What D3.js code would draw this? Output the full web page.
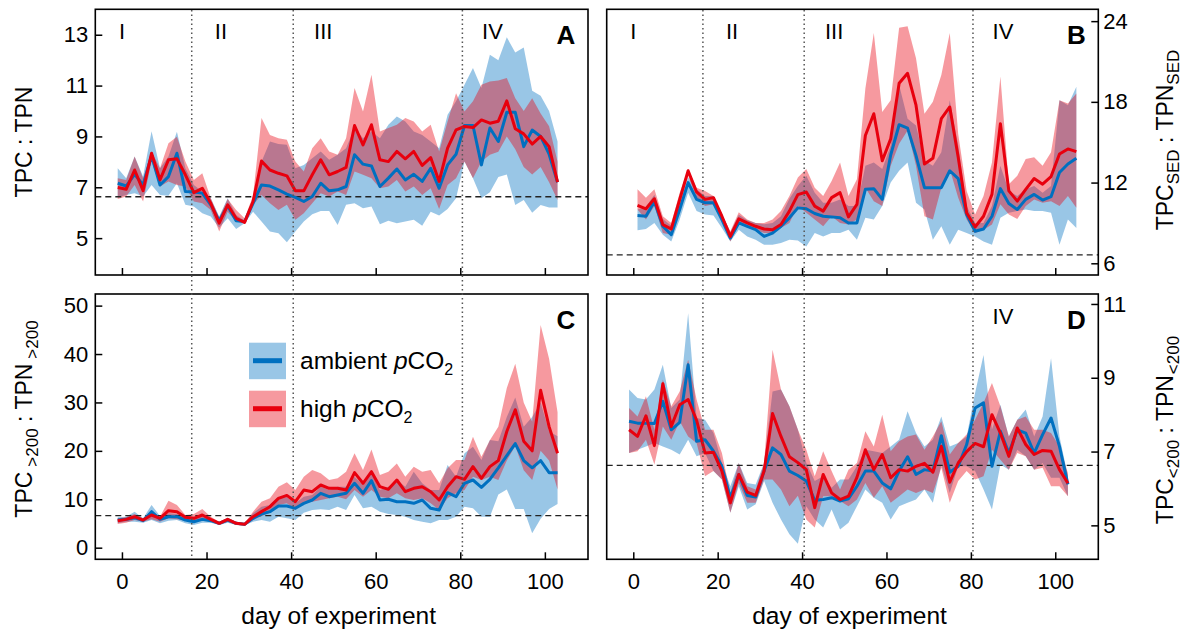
<!doctype html>
<html>
<head>
<meta charset="utf-8">
<script src="https://cdnjs.cloudflare.com/ajax/libs/d3/7.8.5/d3.min.js"></script>
<style>
  body { margin:0; background:#fff; }
  svg { font-family: "Liberation Sans", Arial, Helvetica, sans-serif; }
  .frame { fill:none; stroke:#000; stroke-width:1.6; }
  .axis .domain { display:none; }
  .axis line { stroke:#000; stroke-width:1.5; }
  .axis text { font-size:22px; fill:#000; }
  .redfield { stroke:#222; stroke-width:1.4; stroke-dasharray:6,4; fill:none; }
  .phase { stroke:#555; stroke-width:1.5; stroke-dasharray:1.5,3; }
  .lbl { font-size:23px; fill:#000; }
  .xlbl { font-size:24.5px; fill:#000; }
  .leg { font-size:24.5px; fill:#000; }
  .roman { font-size:22px; fill:#000; text-anchor:middle; }
  .letter { font-size:26px; font-weight:bold; fill:#000; text-anchor:middle; }
</style>
</head>
<body>
<svg id="chart" width="1195" height="633"></svg>
<script>
// sampling days
var daysA = [-1,1,3,5,7,9,11,13,15,17,19,21,23,25,27,29,31,33,35,37,39,41,43,45,47,49,51,53,55,57,59,61,63,65,67,69,71,73,75,77,79,81,83,85,87,89,91,93,95,97,99,101,103];
var daysB = [1,3,5,7,9,11,13,15,17,19,21,23,25,27,29,31,33,35,37,39,41,43,45,47,49,51,53,55,57,59,61,63,65,67,69,71,73,75,77,79,81,83,85,87,89,91,93,95,97,99,101,103,105];

// A: TPC : TPN
var aAmbMean = [7.16,7.05,7.51,7.09,8.25,7.09,7.42,8.34,6.83,6.81,6.77,6.31,5.68,6.27,5.68,5.65,6.37,7.09,7.05,6.90,6.73,6.60,6.44,6.64,7.16,6.86,6.90,7.03,8.28,7.91,7.84,7.03,7.36,7.72,7.29,7.51,7.23,7.75,6.96,7.88,8.30,9.43,9.43,7.88,9.33,8.8,9.95,9.95,8.6,9.25,9.0,8.3,7.2];
var aAmbLo = [6.60,6.70,6.77,6.64,7.09,6.70,6.67,7.16,6.31,6.24,5.98,5.85,5.41,5.78,5.36,5.59,6.04,5.65,5.26,5.19,4.84,5.26,5.65,5.94,6.07,6.07,5.52,6.31,6.37,6.18,6.24,5.55,5.68,5.59,5.65,5.72,5.49,6.04,5.89,6.15,6.57,8.01,7.36,6.57,6.8,7.4,7.5,6.3,6.5,6.0,6.3,6.2,6.2];
var aAmbHi = [7.75,7.36,8.21,7.42,9.2,7.75,8.21,9.18,7.75,7.09,6.83,6.57,5.85,6.57,5.91,5.68,6.57,8.0,8.8,8.7,8.67,7.75,7.88,8.14,8.41,8.08,8.28,8.54,9.33,8.93,9.19,8.93,9.46,9.78,9.59,9.19,9.06,8.80,8.54,9.85,10.38,11.03,11.69,10.90,12.21,12.0,12.9,12.3,12.5,10.8,10.6,10.0,8.8];
var aHighMean = [6.99,6.92,7.68,6.87,8.34,7.29,8.08,8.12,7.49,6.79,6.96,6.37,5.59,6.31,5.78,5.62,6.44,8.03,7.68,7.55,7.45,6.86,6.86,7.49,8.08,7.49,7.62,7.78,9.43,8.67,9.46,8.08,8.01,8.41,8.12,8.41,7.86,8.17,7.23,8.54,9.26,9.39,9.35,9.65,9.52,9.6,10.4,9.3,9.1,8.7,9.0,8.6,7.2];
var aHighLo = [6.54,6.64,7.09,6.44,8.01,7.03,7.23,7.09,7.03,6.44,6.37,6.11,5.26,6.04,5.65,5.59,6.31,6.70,6.37,6.11,6.31,5.72,5.98,6.37,6.77,6.64,6.83,6.70,7.62,7.49,7.36,6.96,7.03,7.29,6.83,7.03,6.70,6.96,6.15,7.09,7.36,8.01,7.36,8.01,8.28,8.4,9.0,8.5,7.8,7.5,7.8,7.2,6.5];
var aHighHi = [7.36,7.29,8.21,7.36,8.41,7.75,8.73,8.99,8.01,7.29,7.55,6.57,5.81,6.54,6.11,5.78,6.67,9.72,9.06,8.93,8.87,8.01,7.62,8.54,8.93,8.41,8.28,8.93,10.9,9.98,11.43,9.19,9.33,9.46,9.72,9.59,9.19,9.46,8.41,9.59,10.70,9.98,10.38,11.03,11.16,11.2,11.3,10.5,10.0,10.5,9.9,9.4,8.0];

// B: sediment trap
var bAmbMean = [9.55,9.5,10.6,8.75,8.12,10.0,12.0,10.75,10.5,10.5,9.25,7.88,9.0,8.75,8.5,8.0,8.25,8.75,9.38,10.12,10.05,9.7,9.5,9.45,9.38,9.0,9.0,11.5,11.55,10.75,14.05,16.3,16.05,14.0,11.62,11.62,11.62,12.88,12.3,9.62,8.38,8.55,9.5,11.55,10.45,10.0,10.75,11.12,10.7,10.95,12.75,13.38,13.8];
var bAmbLo = [8.45,8.55,9.0,8.12,7.62,9.25,11.25,9.88,9.62,9.55,8.62,7.62,8.5,8.0,7.75,7.38,7.38,7.5,7.75,7.7,7.25,8.25,8.0,8.25,8.25,8.5,7.75,9.38,9.25,10.25,12.0,12.88,13.5,10.5,10.0,7.75,8.75,7.38,8.5,8.25,8.0,7.62,7.38,9.38,9.75,9.88,10.0,9.88,9.88,9.75,7.38,9.25,8.62];
var bAmbHi = [10.0,10.2,11.1,9.3,8.8,10.6,12.4,11.5,11.0,11.0,9.7,8.3,9.6,9.2,9.0,8.9,9.0,9.5,10.8,11.75,12.5,11.25,10.5,10.5,10.75,10.25,10.25,13.25,13.5,13.0,14.75,19.25,16.75,16.25,13.62,13.25,14.25,18.12,14.75,10.25,9.0,9.0,10.25,13.25,11.38,11.0,11.5,11.75,11.25,11.75,18.12,17.75,19.12];
var bHighMean = [10.3,10.05,10.8,8.88,8.55,10.75,12.88,11.3,10.75,10.88,9.5,8.0,9.3,9.0,8.75,8.55,8.5,8.88,9.88,11.1,11.3,10.25,9.88,10.88,11.25,9.45,10.38,15.5,17.12,13.62,15.25,19.38,20.12,17.75,13.38,13.8,16.75,17.62,13.88,9.75,8.7,9.5,11.12,16.38,11.38,10.62,11.5,12.3,11.88,12.45,14.12,14.5,14.3];
var bHighLo = [10.0,9.25,10.25,8.25,8.12,10.25,12.5,10.88,10.25,10.38,9.12,7.62,8.88,8.75,8.5,8.25,8.25,8.62,9.0,10.25,9.75,9.25,8.75,9.5,9.0,8.88,9.25,11.62,10.62,10.25,13.25,14.88,15.88,13.25,9.5,9.25,11.62,13.0,10.88,9.25,8.25,8.5,8.88,10.38,9.62,9.3,10.25,10.75,10.5,10.62,10.25,11.0,10.12];
var bHighHi = [11.5,10.88,11.5,9.5,9.0,11.25,13.0,11.62,11.38,11.0,9.62,8.38,9.8,9.25,9.0,9.0,9.25,9.88,11.0,12.38,13.0,11.62,11.0,12.12,13.5,11.0,12.25,19.0,23.12,17.25,18.12,23.5,23.62,21.25,17.12,18.0,20.0,23.12,15.62,11.38,9.62,11.0,13.5,19.88,11.88,12.5,13.75,13.88,13.25,14.25,18.12,17.88,18.62];

// C: >200 um fraction
var cAmbMean = [5.72,5.85,6.2,5.58,7.44,5.85,6.4,6.4,5.72,5.37,5.85,5.58,5.03,5.72,5.03,4.82,6.06,6.96,7.44,8.61,8.61,8.13,9.16,9.85,11.23,10.54,10.88,11.23,13.3,11.23,13.84,9.85,9.99,9.5,9.5,9.16,9.85,8.13,7.78,11.36,10.54,13.3,13.98,12.47,14.12,16.5,19,21.5,18,16.5,18,15.5,15.5];
var cAmbLo = [5.03,5.37,5.37,5.17,5.72,5.03,5.58,5.72,5.03,4.68,5.17,5.17,4.68,5.17,4.68,4.61,5.37,5.72,5.37,6.4,6.06,5.72,7.23,7.78,7.92,7.78,8.47,7.78,10.88,8.13,8.47,7.44,6.96,6.75,6.4,5.72,5.37,5.03,5.72,5.72,6.4,8.47,8.13,6.4,6.4,11,12,8,8,3,6,8,9];
var cAmbHi = [6.27,6.4,7.44,6.06,8.82,6.54,7.09,6.96,6.4,6.4,6.54,6.06,5.37,6.06,5.37,5.03,7.09,8.47,8.82,10.54,10.4,9.16,10.54,10.88,12.6,11.91,12.6,12.6,14.67,12.95,15.7,11.91,12.6,13.98,12.6,15.7,13.3,11.91,11.91,17.08,14.67,19.49,20.87,18.1,22.24,22,27,31,25,27,30,24,23];
var cHighMean = [5.58,5.85,6.4,5.7,6.75,6.06,7.64,7.44,6.27,6.06,6.75,5.85,5.03,5.85,5.03,4.82,6.4,7.44,8.47,10.19,10.8,9.5,11.9,11.57,12.95,12.26,12.26,11.9,15.5,13.3,15.7,12.6,12.05,13.98,11.57,12.26,12.6,11.57,9.85,12.6,14.67,14.12,16.74,14.33,16.74,18,24,28.5,22,20,32.5,25,19.5];
var cHighLo = [4.89,5.17,5.72,5.37,5.85,5.37,6.06,5.85,5.58,5.37,5.85,5.37,4.68,5.37,4.68,4.55,5.72,6.54,7.23,8.82,9.16,7.78,9.16,9.5,9.85,10.19,10.54,10.0,11.9,10.54,11.9,10.54,10.19,11.23,10.19,9.85,10.19,9.16,7.78,10.19,11.23,11.9,14.67,13.98,14.67,14,18,21,16,14,20,18,12];
var cHighHi = [6.06,6.27,6.96,6.06,7.44,6.4,9.71,8.82,6.75,6.96,7.99,6.4,5.37,6.2,5.37,5.03,7.44,9.5,10.19,12.6,13.5,11.91,14.67,16.05,15.36,13.98,14.33,15.7,19.49,16.05,20.3,15.0,15.7,17.4,14.67,16.74,15.7,16.05,13.3,16.4,18.1,18.1,22.9,18.8,22.2,25,33,38,30,26,46,39,28];

// D: <200 um fraction
var dAmbMean = [7.82,7.77,7.77,7.76,8.36,7.59,7.79,9.35,7.28,7.32,7.01,6.6,5.75,6.38,5.81,5.77,6.47,7.1,6.92,6.47,6.35,6.2,5.68,5.7,5.75,5.66,5.72,6.06,6.47,6.47,6.15,5.99,6.47,6.86,6.38,6.51,6.47,7.43,6.44,6.6,7.19,8.18,8.32,6.6,7.55,6.96,7.59,7.5,6.96,7.46,7.91,7.14,6.11];
var dAmbLo = [6.96,7.05,7.14,7.23,7.14,7.05,6.92,7.32,6.87,6.96,6.47,6.24,5.34,6.06,5.43,5.57,6.2,5.61,5.16,4.76,4.5,5.52,5.16,4.94,5.43,4.89,5.07,5.52,5.97,5.75,5.61,5.16,5.52,5.61,5.7,5.97,5.61,6.65,5.88,6.6,6.6,6.47,5.97,5.43,6.65,6.51,7.05,6.87,6.51,6.69,6.29,6.29,5.79];
var dAmbHi = [8.68,8.45,8.41,8.68,9.35,8.18,8.41,10.75,7.91,7.86,7.5,6.69,6.06,6.69,6.15,6.11,6.69,8.63,8.68,8.23,7.6,6.69,6.2,6.33,6.02,6.24,6.24,6.6,7.05,7.01,6.96,7.14,7.32,8.09,7.5,7.14,7.32,7.95,7.14,7.23,7.41,8.59,9.62,7.6,8.27,7.41,7.86,8.14,7.41,7.95,9.53,7.41,6.33];
var dHighMean = [7.59,7.41,7.97,7.16,8.84,7.68,8.27,8.41,7.85,6.96,6.98,6.47,5.61,6.38,5.9,5.81,6.47,8.03,7.41,6.86,6.7,6.51,5.48,6.38,5.88,5.7,5.79,6.3,7.05,6.51,6.92,6.29,6.51,6.47,6.6,6.68,6.44,7.14,6.17,6.69,7.0,7.22,7.13,8.0,7.5,6.87,7.64,7.19,6.92,7.03,7.01,6.51,6.14];
var dHighLo = [6.96,7.01,7.32,6.65,7.68,7.32,7.82,7.41,7.23,6.33,6.47,6.24,5.34,6.15,5.61,5.61,6.24,6.24,5.97,5.52,5.8,5.16,4.94,5.79,5.79,5.66,5.52,5.7,6.15,5.75,6.06,5.61,5.79,5.97,5.88,5.97,5.88,6.56,5.61,6.2,6.47,6.24,6.33,7.05,6.78,6.51,6.96,6.87,6.51,6.56,6.06,6.06,5.79];
var dHighHi = [8.18,7.95,8.5,7.59,8.95,8.23,8.63,9.49,8.41,7.59,7.59,6.96,5.88,6.69,6.06,5.97,6.69,9.76,8.68,8.23,7.6,7.05,6.33,7.01,6.47,5.97,6.51,6.69,7.55,7.14,8.0,7.01,7.28,7.41,7.46,7.05,7.41,7.82,6.92,7.23,7.46,7.86,8.32,8.86,8.23,7.41,7.86,7.95,7.59,7.59,7.5,7.14,6.42];

var xTicks = [0,20,40,60,80,100];
var phaseDays = [16.5, 40.5, 80.5];
var redfield = 6.625;

var colAmb = "#0070c0", colHigh = "#e8000e";

var svg = d3.select("#chart");

var panels = [
  {name:"A", left:95.3, right:588, top:9.3, bottom:275, yDom:[3.55,14.0], yTicks:[5,7,9,11,13], side:"left",
   days:daysA, amb:[aAmbLo,aAmbMean,aAmbHi], high:[aHighLo,aHighMean,aHighHi], xLabels:false,
   roman:[["I",0],["II",23.4],["III",47.6],["IV",87.6]]},
  {name:"B", left:606.7, right:1098.3, top:9.3, bottom:275, yDom:[5.13,24.88], yTicks:[6,12,18,24], side:"right",
   days:daysB, amb:[bAmbLo,bAmbMean,bAmbHi], high:[bHighLo,bHighMean,bHighHi], xLabels:false,
   roman:[["I",0],["II",23.4],["III",47.6],["IV",87.6]]},
  {name:"C", left:95.3, right:588, top:294, bottom:559.3, yDom:[-2.4,52.4], yTicks:[0,10,20,30,40,50], side:"left",
   days:daysA, amb:[cAmbLo,cAmbMean,cAmbHi], high:[cHighLo,cHighMean,cHighHi], xLabels:true,
   roman:[]},
  {name:"D", left:606.7, right:1098.3, top:294, bottom:559.3, yDom:[4.08,11.27], yTicks:[5,7,9,11], side:"right",
   days:daysA, amb:[dAmbLo,dAmbMean,dAmbHi], high:[dHighLo,dHighMean,dHighHi], xLabels:true,
   roman:[["IV",87.6]]}
];

panels.forEach(function(p) {
  var x = d3.scaleLinear().domain([-6.3, 110.2]).range([p.left, p.right]);
  var y = d3.scaleLinear().domain(p.yDom).range([p.bottom, p.top]);
  var g = svg.append("g");

  function band(lo, hi) {
    return d3.area()
      .x(function(d, i) { return x(p.days[i]); })
      .y0(function(d, i) { return y(lo[i]); })
      .y1(function(d, i) { return y(hi[i]); })(p.days);
  }
  function line(v) {
    return d3.line()
      .x(function(d, i) { return x(p.days[i]); })
      .y(function(d, i) { return y(v[i]); })(p.days);
  }

  g.append("path").attr("d", band(p.amb[0], p.amb[2])).attr("fill", colAmb).attr("fill-opacity", 0.4);
  g.append("path").attr("d", band(p.high[0], p.high[2])).attr("fill", colHigh).attr("fill-opacity", 0.4);

  g.append("line").attr("class", "redfield")
    .attr("x1", p.left).attr("x2", p.right)
    .attr("y1", y(redfield)).attr("y2", y(redfield));

  g.append("path").attr("d", line(p.amb[1])).attr("fill", "none").attr("stroke", colAmb).attr("stroke-width", 3).attr("stroke-linejoin", "round");
  g.append("path").attr("d", line(p.high[1])).attr("fill", "none").attr("stroke", colHigh).attr("stroke-width", 3).attr("stroke-linejoin", "round");

  g.append("rect").attr("class", "frame")
    .attr("x", p.left).attr("y", p.top)
    .attr("width", p.right - p.left).attr("height", p.bottom - p.top);

  // x axis (ticks inward)
  var xa = d3.axisBottom(x).tickValues(xTicks).tickSize(-7).tickPadding(14);
  if (!p.xLabels) xa.tickFormat("");
  g.append("g").attr("class", "axis").attr("transform", "translate(0," + p.bottom + ")").call(xa);

  // y axis
  if (p.side == "left") {
    g.append("g").attr("class", "axis").attr("transform", "translate(" + p.left + ",0)")
      .call(d3.axisLeft(y).tickValues(p.yTicks).tickSize(-7).tickPadding(7));
  } else {
    g.append("g").attr("class", "axis").attr("transform", "translate(" + p.right + ",0)")
      .call(d3.axisRight(y).tickValues(p.yTicks).tickSize(-7).tickPadding(5));
  }

  p.roman.forEach(function(r) {
    g.append("text").attr("class", "roman").attr("x", x(r[1])).attr("y", p.top + 30).text(r[0]);
  });
  g.append("text").attr("class", "letter").attr("x", p.right - 22).attr("y", p.top + 35).text(p.name);

  if (p.xLabels) {
    g.append("text").attr("class", "xlbl").attr("text-anchor", "middle")
      .attr("x", (p.left + p.right) / 2 - 3).attr("y", 624).text("day of experiment");
  }
});

// phase boundaries, running through both rows
[[95.3, 588], [606.7, 1098.3]].forEach(function(c) {
  var x = d3.scaleLinear().domain([-6.3, 110.2]).range(c);
  svg.selectAll(null).data(phaseDays).enter().append("line")
    .attr("class", "phase")
    .attr("x1", function(d) { return x(d); }).attr("x2", function(d) { return x(d); })
    .attr("y1", 10).attr("y2", 559);
});

// y labels
function ylabel(tx, ty, main1, sub1, main2, sub2) {
  var t = svg.append("text").attr("class", "lbl").attr("text-anchor", "middle")
    .attr("transform", "translate(" + tx + "," + ty + ") rotate(-90)");
  t.append("tspan").text(main1);
  if (sub1) t.append("tspan").attr("dy", 6).attr("dx", sub1.gap).style("font-size", "17px").text(sub1.t);
  t.append("tspan").attr("dy", sub1 ? -6 : 0).text(main2);
  if (sub2) t.append("tspan").attr("dy", 6).attr("dx", sub2.gap).style("font-size", "17px").text(sub2.t);
}
ylabel(31.5, 142, "TPC : TPN", null, "", null);
ylabel(31.5, 419, "TPC", {t:">200", gap:5}, " : TPN", {t:">200", gap:5});
ylabel(1173, 140, "TPC", {t:"SED", gap:0}, " : TPN", {t:"SED", gap:0});
ylabel(1173, 430, "TPC", {t:"<200", gap:0}, " : TPN", {t:"<200", gap:1});

// legend
var legend = svg.append("g");
var legItems = [["ambient ", colAmb, 342.7], ["high ", colHigh, 390.7]];
legItems.forEach(function(it) {
  legend.append("rect").attr("x", 249).attr("y", it[2]).attr("width", 37).attr("height", 36.5)
    .attr("fill", it[1]).attr("fill-opacity", 0.4);
  legend.append("line").attr("x1", 253).attr("x2", 282).attr("y1", it[2] + 18).attr("y2", it[2] + 18)
    .attr("stroke", it[1]).attr("stroke-width", 5);
  var t = legend.append("text").attr("class", "leg").attr("x", 300).attr("y", it[2] + 26);
  t.append("tspan").text(it[0]);
  t.append("tspan").style("font-style", "italic").text("p");
  t.append("tspan").text("CO");
  t.append("tspan").attr("dy", 6).style("font-size", "16px").text("2");
});
</script>
</body>
</html>
